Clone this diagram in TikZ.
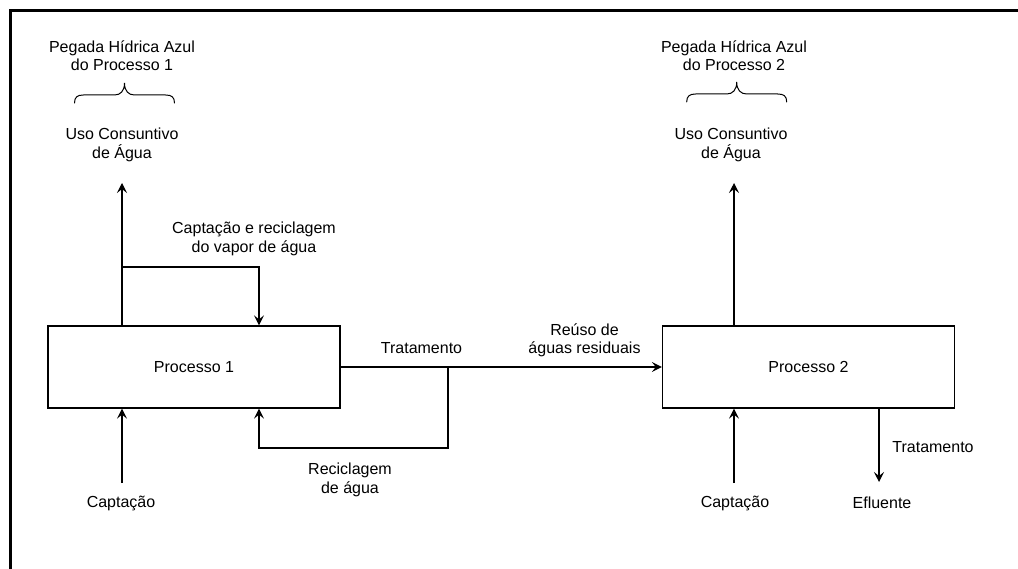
\documentclass[tikz,border=0pt]{standalone}
\usepackage{fontspec}
\setmainfont{Liberation Sans}
\usetikzlibrary{arrows.meta}
\tikzset{
  lbl/.style={inner sep=0pt, align=center, font=\fontsize{16}{18.3}\selectfont},
  procbox/.style={draw, line width=1.3pt, minimum width=292pt, minimum height=82pt, inner sep=0pt, font=\fontsize{16}{18.3}\selectfont},
  arr/.style={line width=1.3pt, line join=miter, -{Stealth[length=10pt, width=10pt, inset=4pt]}},
  bracestyle/.style={line width=1pt, line cap=round}
}
\begin{document}
\begin{tikzpicture}[x=1pt, y=-1pt]
\useasboundingbox (0,0) rectangle (1018,569);
% frame
\draw[line width=2.8pt, line join=miter] (10.5,569) -- (10.5,10.5) -- (1018,10.5);

% process boxes
\node[procbox] (p1) at (194,367) {Processo 1};
\node[procbox] (p2) at (808.5,367) {Processo 2};

% labels
\node[lbl] (peg1) at (122,56) {Pegada Hídrica Azul\\do Processo 1};
\node[lbl] (uso1) at (122,145) {Uso Consuntivo\\de Água};
\node[lbl] (peg2) at (734,56) {Pegada Hídrica Azul\\do Processo 2};
\node[lbl] (uso2) at (731,145) {Uso Consuntivo\\de Água};
\node[lbl] (vap) at (254,239) {Captação e reciclagem\\do vapor de água};
\node[lbl] (trat1) at (421.5,348) {Tratamento};
\node[lbl] (reuso) at (584.5,340) {Reúso de\\águas residuais};
\node[lbl] (recic) at (350,480) {Reciclagem\\de água};
\node[lbl] (cap1) at (121,503) {Captação};
\node[lbl] (cap2) at (735,503) {Captação};
\node[lbl] (trat2) at (933,447) {Tratamento};
\node[lbl] (eflu) at (882,503) {Efluente};

% braces
\coordinate (b1) at (124.5,83);
\coordinate (b2) at (736.7,82);
\foreach \b in {b1,b2}{
  \begin{scope}[shift={(\b)}]
    \draw[bracestyle] (-50,20) .. controls (-50,14) and (-47,12) .. (-41,12) -- (-10,12)
      .. controls (-4,12) and (0,8) .. (0,0)
      .. controls (0,8) and (4,12) .. (10,12) -- (41,12)
      .. controls (47,12) and (50,14) .. (50,20);
  \end{scope}
}

% coordinates
\coordinate (u1tip) at (122,183);
\coordinate (u2tip) at (734,183);
\coordinate (v1) at (122,267);
\coordinate (v2) at (259,267);
\coordinate (r1) at (448,367);
\coordinate (r2) at (448,448);
\coordinate (r3) at (259,448);
\coordinate (c1) at (122,483);
\coordinate (c2) at (734,483);
\coordinate (etip) at (879,482);

% connectors
\draw[arr] (p1.north -| u1tip) -- (u1tip);
\draw[arr] (v1) -- (v2) -- (v2 |- p1.north);
\draw[arr] (p1.east) -- (p2.west);
\draw[arr] (r1) -- (r2) -- (r3) -- (r3 |- p1.south);
\draw[arr] (c1) -- (c1 |- p1.south);
\draw[arr] (p2.north -| u2tip) -- (u2tip);
\draw[arr] (c2) -- (c2 |- p2.south);
\draw[arr] (p2.south -| etip) -- (etip);
\end{tikzpicture}
\end{document}
